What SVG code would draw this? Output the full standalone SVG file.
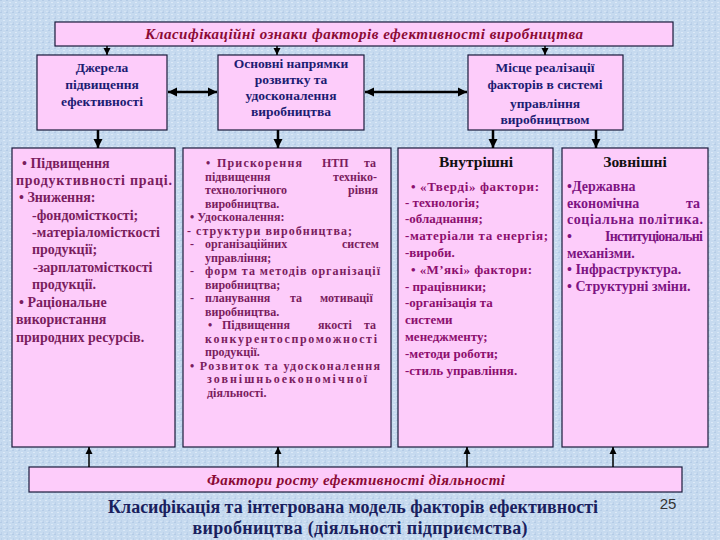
<svg xmlns="http://www.w3.org/2000/svg" width="720" height="540" viewBox="0 0 720 540" font-family="'Liberation Serif', 'DejaVu Serif', serif">
<defs>
<pattern id="bg" width="6" height="6" patternUnits="userSpaceOnUse">
<rect width="6" height="6" fill="#c6daef"/>
<rect x="0" y="0" width="2" height="1" fill="#b4cbe6"/>
<rect x="3" y="2" width="2" height="1" fill="#dce9f7"/>
<rect x="1" y="4" width="1" height="2" fill="#bcd1ea"/>
<rect x="4" y="5" width="2" height="1" fill="#d4e3f4"/>
</pattern>
<marker id="ah" markerUnits="userSpaceOnUse" markerWidth="8" markerHeight="8" refX="7" refY="4" orient="auto-start-reverse">
<path d="M0,0.5 L7,4 L0,7.5 z" fill="#000"/>
</marker>
<marker id="ahb" markerUnits="userSpaceOnUse" markerWidth="10" markerHeight="10" refX="9" refY="5" orient="auto-start-reverse">
<path d="M0,0.5 L9,5 L0,9.5 z" fill="#000"/>
</marker>
</defs>
<style>
text{font-family:'Liberation Serif','DejaVu Serif',serif}
.box{fill:#fdccfa;stroke:#1a1a3a;stroke-width:1.2}
.hd{font-weight:bold;font-size:13.5px;fill:#1c1c72;text-anchor:middle}
.a{font-weight:bold;font-size:14px;fill:#7a1d5e}
.b{font-weight:bold;font-size:12px;fill:#7a1d5e}
.c{font-weight:bold;font-size:13px;fill:#8c0f6e}
.d{font-weight:bold;font-size:14px;fill:#7d1482}
.ttl{font-weight:bold;font-size:15.5px;fill:#111;text-anchor:middle}
.it{font-style:italic;font-weight:bold;font-size:15px;fill:#8b0a35;text-anchor:middle}
.cap{font-weight:bold;font-size:18px;fill:#1a1f5e;text-anchor:middle}
.num{font-family:'Liberation Sans',Arial,sans-serif;font-size:15px;fill:#333;text-anchor:middle}
.ln{stroke:#000;stroke-width:1.5;fill:none}
.lnb{stroke:#000;stroke-width:2.5;fill:none}
</style>
<rect width="720" height="540" fill="url(#bg)"/>

<g id="title">
<rect class="box" x="55" y="22" width="618" height="24"/>
<text class="it" x="364" y="39" textLength="438">Класифікаційні ознаки факторів ефективності виробництва</text>
</g>

<g id="sources">
<rect class="box" x="37" y="55" width="130" height="75"/>
<text class="hd" x="102" y="72">Джерела</text>
<text class="hd" x="102" y="89">підвищення</text>
<text class="hd" x="102" y="106">ефективності</text>
</g>

<g id="directions">
<rect class="box" x="218" y="55" width="146" height="75"/>
<text class="hd" x="291" y="68">Основні напрямки</text>
<text class="hd" x="291" y="84">розвитку та</text>
<text class="hd" x="291" y="100">удосконалення</text>
<text class="hd" x="291" y="116">виробництва</text>
</g>

<g id="place">
<rect class="box" x="468" y="55" width="155" height="75"/>
<text class="hd" x="545" y="72">Місце реалізації</text>
<text class="hd" x="545" y="89">факторів в системі</text>
<text class="hd" x="545" y="108">управління</text>
<text class="hd" x="545" y="124">виробництвом</text>
</g>

<g id="boxA">
<rect class="box" x="12" y="148" width="163" height="299"/>
<text class="a" x="22" y="168">• Підвищення</text>
<text class="a" x="16" y="185" textLength="156">продуктивності праці.</text>
<text class="a" x="19" y="202">•  Зниження:</text>
<text class="a" x="32" y="220">-фондомісткості;</text>
<text class="a" x="32" y="237" textLength="128">-матеріаломісткості</text>
<text class="a" x="32" y="254">продукції;</text>
<text class="a" x="33" y="272">-зарплатомісткості</text>
<text class="a" x="32" y="289">продукції.</text>
<text class="a" x="19" y="307">• Раціональне</text>
<text class="a" x="16" y="324">використання</text>
<text class="a" x="16" y="342">природних ресурсів.</text>
</g>

<g id="boxB">
<rect class="box" x="183" y="148" width="208" height="299"/>
<text class="b" y="167"><tspan x="206">•</tspan><tspan x="217" textLength="85">Прискорення</tspan><tspan x="322">НТП</tspan><tspan x="364">та</tspan></text>
<text class="b" y="180.5"><tspan x="205">підвищення</tspan><tspan x="333">техніко-</tspan></text>
<text class="b" y="194"><tspan x="205">технологічного</tspan><tspan x="348">рівня</tspan></text>
<text class="b" x="205" y="207.5">виробництва.</text>
<text class="b" x="190" y="221">• Удосконалення:</text>
<text class="b" x="187" y="234.5" textLength="165">- структури виробництва;</text>
<text class="b" y="248"><tspan x="190">-</tspan><tspan x="205">організаційних</tspan><tspan x="342">систем</tspan></text>
<text class="b" x="205" y="261.5">управління;</text>
<text class="b" y="275"><tspan x="190">-</tspan><tspan x="205" textLength="175">форм та методів організації</tspan></text>
<text class="b" x="205" y="288.5">виробництва;</text>
<text class="b" y="302"><tspan x="190">-</tspan><tspan x="205">планування</tspan><tspan x="290">та</tspan><tspan x="320">мотивації</tspan></text>
<text class="b" x="205" y="315.5">виробництва.</text>
<text class="b" y="329"><tspan x="208">•</tspan><tspan x="222">Підвищення</tspan><tspan x="318">якості</tspan><tspan x="364">та</tspan></text>
<text class="b" x="205" y="342.5" textLength="172">конкурентоспроможності</text>
<text class="b" x="205" y="356">продукції.</text>
<text class="b" x="190" y="369.5" textLength="190">• Розвиток та удосконалення</text>
<text class="b" x="207" y="383" textLength="160">зовнішньоекономічної</text>
<text class="b" x="207" y="396.5">діяльності.</text>
</g>

<g id="boxC">
<rect class="box" x="398" y="148" width="155" height="299"/>
<text class="ttl" x="476" y="167">Внутрішні</text>
<text class="c" x="411" y="191" textLength="128">• «Тверді» фактори:</text>
<text class="c" x="405" y="207">- технологія;</text>
<text class="c" x="405" y="223">-обладнання;</text>
<text class="c" x="405" y="240" textLength="143">-матеріали та енергія;</text>
<text class="c" x="405" y="257">-вироби.</text>
<text class="c" x="411" y="274" textLength="121">• «М’які» фактори:</text>
<text class="c" x="405" y="291">- працівники;</text>
<text class="c" x="405" y="307">-організація та</text>
<text class="c" x="405" y="324">системи</text>
<text class="c" x="405" y="341">менеджменту;</text>
<text class="c" x="405" y="358">-методи роботи;</text>
<text class="c" x="405" y="375">-стиль управління.</text>
</g>

<g id="boxD">
<rect class="box" x="562" y="148" width="146" height="299"/>
<text class="ttl" x="635" y="167">Зовнішні</text>
<text class="d" x="567" y="191">•Державна</text>
<text class="d" y="208"><tspan x="567">економічна</tspan><tspan x="686">та</tspan></text>
<text class="d" x="567" y="224" textLength="136">соціальна політика.</text>
<text class="d" y="241"><tspan x="567">•</tspan><tspan x="605" textLength="98">Інституціональні</tspan></text>
<text class="d" x="567" y="258">механізми.</text>
<text class="d" x="567" y="274">• Інфраструктура.</text>
<text class="d" x="567" y="291">• Структурні зміни.</text>
</g>

<g id="growth">
<rect class="box" x="29" y="467" width="653" height="25"/>
<text class="it" x="356" y="485" textLength="298">Фактори росту ефективності діяльності</text>
</g>

<g id="connectors">
<line class="ln" x1="107" y1="46" x2="107" y2="55" marker-end="url(#ah)"/>
<line class="ln" x1="277" y1="46" x2="277" y2="55" marker-end="url(#ah)"/>
<line class="ln" x1="545" y1="46" x2="545" y2="55" marker-end="url(#ah)"/>
<line class="lnb" x1="168" y1="92" x2="217" y2="92" marker-start="url(#ahb)" marker-end="url(#ahb)"/>
<line class="lnb" x1="365" y1="92" x2="467" y2="92" marker-start="url(#ahb)" marker-end="url(#ahb)"/>
<line class="lnb" x1="98" y1="130" x2="98" y2="148" marker-end="url(#ahb)"/>
<line class="lnb" x1="278" y1="130" x2="278" y2="148" marker-end="url(#ahb)"/>
<line class="lnb" x1="493" y1="130" x2="493" y2="148" marker-end="url(#ahb)"/>
<line class="lnb" x1="596" y1="130" x2="596" y2="148" marker-end="url(#ahb)"/>
<line class="ln" x1="89" y1="467" x2="89" y2="447" marker-end="url(#ah)"/>
<line class="ln" x1="278" y1="467" x2="278" y2="447" marker-end="url(#ah)"/>
<line class="ln" x1="467" y1="467" x2="467" y2="447" marker-end="url(#ah)"/>
<line class="ln" x1="613" y1="467" x2="613" y2="447" marker-end="url(#ah)"/>
</g>

<g id="caption">
<text class="cap" x="353" y="513" textLength="490">Класифікація та інтегрована модель факторів ефективності</text>
<text class="cap" x="360" y="534" textLength="335">виробництва (діяльності підприємства)</text>
<text class="num" x="668" y="509">25</text>
</g>
</svg>
